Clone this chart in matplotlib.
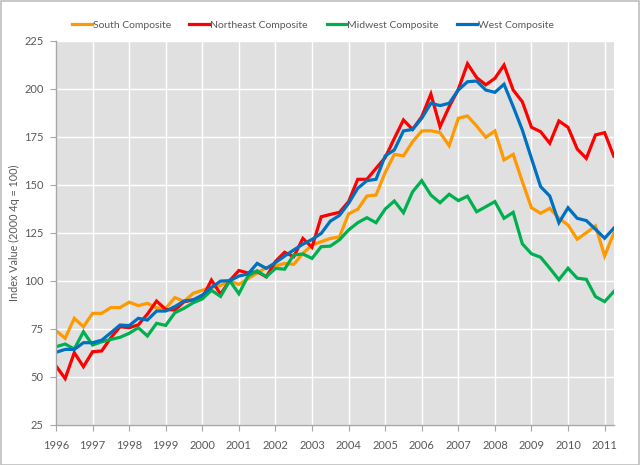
import numpy as np
import matplotlib
matplotlib.use("Agg")
import matplotlib.pyplot as plt
from matplotlib.patches import Rectangle

plt.rcParams['font.family'] = ['Lato', 'DejaVu Sans']

# quarterly index values, 1996 Q1 .. 2011 Q2
south = [74, 70, 80.4, 76, 83, 83, 86, 86, 88.8, 87, 88.2, 85.8, 85.6, 91.2, 89.2, 93.4,
         95, 96.5, 97.5, 100, 98, 101, 104, 106.8, 107.6, 109, 108.5, 114.2, 118.6, 120.3, 122, 122.8,
         134.8, 137.2, 144.1, 144.6, 156.3, 165.8, 165, 172.4, 178, 178.1, 177.1, 170.3, 184.6, 185.8, 180.6,
         174.7, 178, 162.9, 165.8, 151.6, 138, 135.1, 137.7, 132.5, 129, 121.6, 125, 128.5, 112.9, 124.7]
northeast = [55.6, 49, 62.5, 55.2, 63, 63.4, 70.3, 76, 75.5, 77, 82.6, 89.4, 85, 84.7, 89, 90,
             91, 100.3, 93, 100, 105.3, 104, 104.7, 102, 110, 114.8, 112.5, 122, 117.4, 133.3, 134.5, 135.6,
             141.2, 152.8, 152.8, 158.5, 164.1, 174.1, 183.7, 178.8, 185.4, 197.2, 180.2, 190.6, 199.7, 213, 205.8,
             202, 205.4, 212.3, 199.3, 193.2, 179.9, 177.6, 171.6, 183.2, 179.9, 168.6, 163.7, 175.9, 177.1, 164.9]
midwest = [65.6, 67, 64.4, 73.4, 66.5, 68.2, 69.4, 70.5, 72.6, 75.5, 71.2, 77.8, 76.7, 83.3, 85.6, 88.5,
           90.5, 95, 91.8, 100, 93.2, 102.4, 105.2, 102, 106.4, 106, 113.4, 113.9, 111.6, 117.7, 118, 121.3,
           126.4, 130.2, 132.8, 130.2, 137.3, 141.5, 135.4, 146.3, 152.1, 144.6, 140.6, 145, 141.7, 144, 135.9,
           138.5, 141.2, 132.5, 135.6, 119.2, 114, 112.2, 106.5, 100.5, 106.5, 101.3, 100.7, 91.7, 89.1, 94.3]
west = [62.7, 64.2, 64.2, 67.7, 67.7, 69, 72.9, 76.9, 76.6, 80.4, 79.5, 84.2, 84.2, 86.5, 89.4, 90,
        92.5, 96.5, 99.8, 100, 102.4, 103.5, 109, 106.4, 109.4, 112.8, 116, 119, 121.5, 124.6, 131, 134,
        140.3, 148.1, 152.1, 152.8, 165, 168.1, 178, 178.8, 184.6, 192.4, 191.2, 192.4, 199.3, 203.6, 204,
        199.3, 198.1, 202.3, 190.7, 178.5, 163.7, 149, 144.1, 130.2, 138, 132.5, 131.3, 126.8, 122.1, 127.3]

years = np.arange(1996, 2012)
quarters = 1996 + np.arange(len(south)) / 4.0

series = [("South Composite", south, "#FF9900"),
          ("Northeast Composite", northeast, "#FF0000"),
          ("Midwest Composite", midwest, "#00B050"),
          ("West Composite", west, "#0070C0")]

grey = "#595959"

fig = plt.figure(figsize=(6.4, 4.65), dpi=100)
ax = fig.add_axes([0.0875, 0.0867, 0.8715, 0.8258])
ax.set_facecolor("#E0E0E0")

for name, vals, col in series:
    ax.plot(quarters, vals, color=col, lw=2.3, label=name, solid_joinstyle="miter")

ax.set_xlim(1996, 2011.25)
ax.set_ylim(25, 225)
ax.set_xticks(years)
ax.set_yticks(np.arange(25, 226, 25))
ax.grid(True, color="white", lw=1.0)
ax.set_axisbelow(True)

for s in ["top", "right"]:
    ax.spines[s].set_visible(False)
for s in ["left", "bottom"]:
    ax.spines[s].set_color("#A6A6A6")
    ax.spines[s].set_linewidth(1.0)

ax.tick_params(axis="both", colors="#A6A6A6", labelcolor=grey, labelsize=8, length=4)
ax.tick_params(axis="x", pad=7)
ax.tick_params(axis="y", pad=5)
ax.set_ylabel("Index Value (2000 4q = 100)", color=grey, fontsize=7.8, labelpad=3)

leg = fig.legend(loc="center", bbox_to_anchor=(0.489, 0.946), ncol=4, frameon=False,
                 fontsize=7.5, handlelength=1.9, handletextpad=0.1, columnspacing=1.8)
for t in leg.get_texts():
    t.set_color(grey)

fig.patches.append(Rectangle((0.001, 0.001), 0.997, 0.997, transform=fig.transFigure,
                             fill=False, edgecolor="#BFBFBF", lw=1.2))

fig.savefig("out.png", dpi=100)
